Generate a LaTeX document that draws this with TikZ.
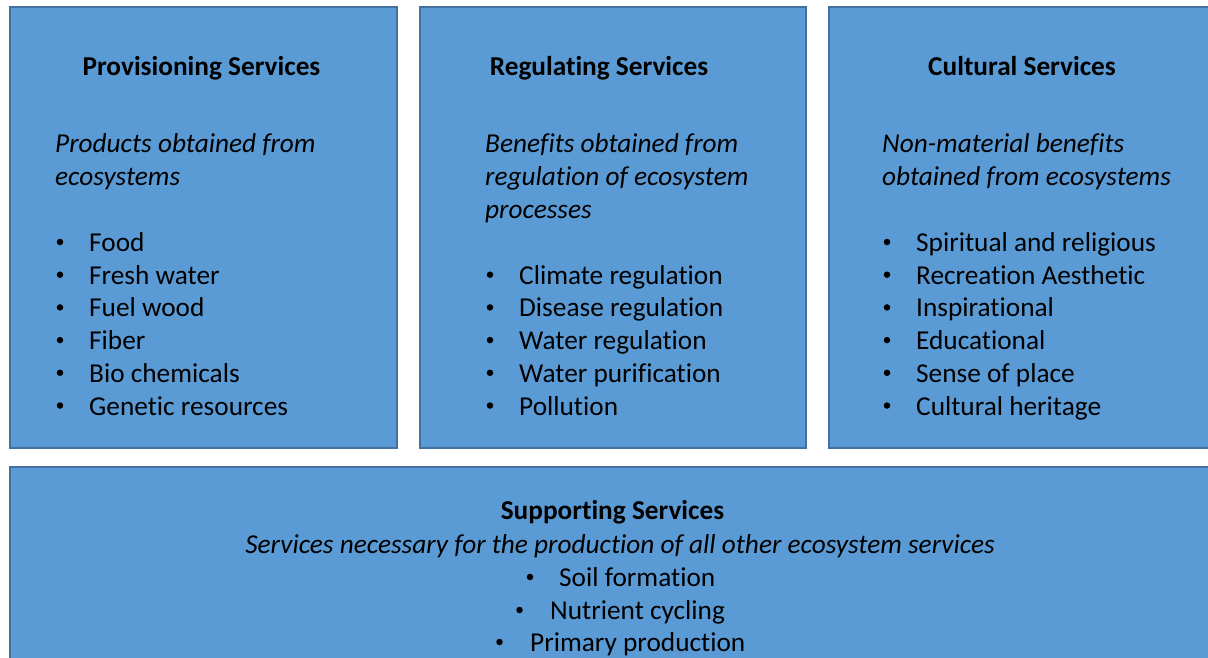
\documentclass[tikz,border=0pt]{standalone}
\usepackage{fontspec}
\setmainfont{Carlito}[Ligatures=NoCommon,Contextuals=NoAlternate,RawFeature={-liga;-clig;-dlig}]
\definecolor{boxfill}{HTML}{5B9BD5}
\definecolor{boxline}{HTML}{41719C}
\begin{document}
\begin{tikzpicture}[x=1pt,y=-1pt,
  svcbox/.style={draw=boxline,fill=boxfill,line width=1.3pt},
  txt/.style={anchor=base west,inner sep=0pt,font=\fontsize{27.3}{33}\selectfont},
  ttl/.style={anchor=base,inner sep=0pt,font=\fontsize{27.3}{33}\selectfont\bfseries},
  itl/.style={txt,font=\fontsize{27.3}{33}\selectfont\itshape},
  bul/.style={circle,fill=black,inner sep=0pt,minimum size=6.5pt},
  mid/.style={anchor=base,inner sep=0pt,font=\fontsize{27.3}{33}\selectfont}]
\useasboundingbox (0,0) rectangle (1208,657);
% boxes
\draw[svcbox] (10,7) rectangle (397,448) node[pos=0,inner sep=0] (prov) {};
\draw[svcbox] (420,7) rectangle (806,448) node[pos=0,inner sep=0] (reg) {};
\draw[svcbox] (829,7) rectangle (1216,448) node[pos=0,inner sep=0] (cult) {};
\draw[svcbox] (10,467) rectangle (1216,680) node[pos=0,inner sep=0] (supp) {};
% Provisioning
\node[ttl] (pt) at (201.5,75.5) {Provisioning Services};
\node[itl] (pi1) at (55,152.5) {Products obtained from};
\node[itl] (pi2) at (55,185.5) {ecosystems};
\foreach \t [count=\i] in {Food,Fresh water,Fuel wood,Fiber,Bio chemicals,Genetic resources}{
  \node[bul] (pb\i) at (60,{242+(\i-1)*32.7}) {};
  \node[txt] (pl\i) at (89,{251.5+(\i-1)*32.7}) {\t};
}
% Regulating
\node[ttl] (rt) at (599,75.5) {Regulating Services};
\node[itl] (ri1) at (485,152.5) {Benefits obtained from};
\node[itl] (ri2) at (485,185.5) {regulation of ecosystem};
\node[itl] (ri3) at (485,218) {processes};
\foreach \t [count=\i] in {Climate regulation,Disease regulation,Water regulation,Water purification,Pollution}{
  \node[bul] (rb\i) at (490,{274.7+(\i-1)*32.7}) {};
  \node[txt] (rl\i) at (519,{284.2+(\i-1)*32.7}) {\t};
}
% Cultural
\node[ttl] (ct) at (1022,75.5) {Cultural Services};
\node[itl] (ci1) at (882,152.5) {Non-material benefits};
\node[itl] (ci2) at (882,185.5) {obtained from ecosystems};
\foreach \t [count=\i] in {Spiritual and religious,Recreation Aesthetic,Inspirational,Educational,Sense of place,Cultural heritage}{
  \node[bul] (cb\i) at (887,{242+(\i-1)*32.7}) {};
  \node[txt] (cl\i) at (916,{251.5+(\i-1)*32.7}) {\t};
}
% Supporting
\node[ttl] (st) at (612.5,519.5) {Supporting Services};
\node[mid,font=\fontsize{27.3}{33}\selectfont\itshape] (si) at (620,553.5) {Services necessary for the production of all other ecosystem services};
\node[bul] (sb1) at (530,577) {};
\node[txt] (s1) at (559,586.5) {Soil formation};
\node[bul] (sb2) at (519.5,610) {};
\node[txt] (s2) at (550,619.5) {Nutrient cycling};
\node[bul] (sb3) at (499.5,642) {};
\node[txt] (s3) at (530,651.5) {Primary production};
\end{tikzpicture}
\end{document}
